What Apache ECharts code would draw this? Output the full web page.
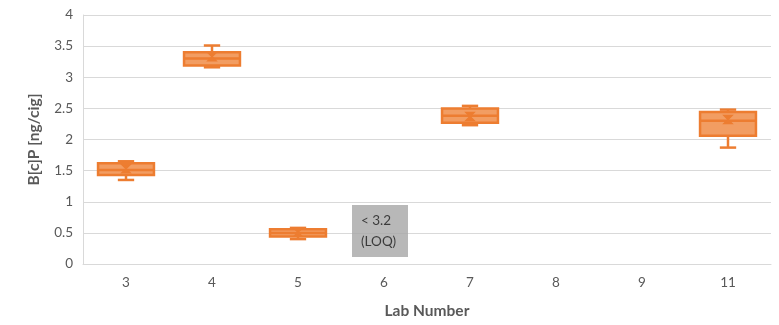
<!DOCTYPE html>
<html>
<head>
<meta charset="utf-8">
<script src="https://cdn.jsdelivr.net/npm/echarts@6/dist/echarts.min.js"></script>
<style>
html,body{margin:0;padding:0;background:#fff;}
#chart{width:779px;height:325px;}
</style>
</head>
<body>
<div id="chart"></div>
<script>
const labs = ['3','4','5','6','7','8','9','11'];
const minVals    = [1.35, 3.16, 0.40, null, 2.23, null, null, 1.87];
const q1Vals     = [1.43, 3.19, 0.44, null, 2.27, null, null, 2.06];
const medianVals = [1.51, 3.30, 0.50, null, 2.38, null, null, 2.30];
const q3Vals     = [1.62, 3.40, 0.56, null, 2.50, null, null, 2.44];
const maxVals    = [1.65, 3.51, 0.58, null, 2.54, null, null, 2.48];
const meanVals   = [1.53, 3.33, 0.51, null, 2.37, null, null, 2.32];
const yTicks = [0, 0.5, 1, 1.5, 2, 2.5, 3, 3.5, 4];
const loqLab = '6';
const loqValue = 0.53;
const loqText = '< 3.2\n(LOQ)';

const boxData = [];
labs.forEach((lab, i) => {
  if (minVals[i] !== null) {
    boxData.push([i, minVals[i], q1Vals[i], medianVals[i], q3Vals[i], maxVals[i], meanVals[i]]);
  }
});

const DARK = '#ED7D31';
const LIGHT = '#F29D62';

function renderBox(params, api) {
  const idx = api.value(0);
  const pMin = api.coord([idx, api.value(1)]);
  const pQ1 = api.coord([idx, api.value(2)]);
  const pMed = api.coord([idx, api.value(3)]);
  const pQ3 = api.coord([idx, api.value(4)]);
  const pMax = api.coord([idx, api.value(5)]);
  const pMean = api.coord([idx, api.value(6)]);
  const band = api.size([1, 0])[0];
  const w = band * 0.65;
  const cap = band * 0.19;
  const cx = pMed[0];
  const lineStyle = {stroke: DARK, lineWidth: 2.5};
  const m = 4;
  return {
    type: 'group',
    children: [
      {type: 'line', shape: {x1: cx, y1: pMin[1], x2: cx, y2: pQ1[1]}, style: lineStyle},
      {type: 'line', shape: {x1: cx, y1: pQ3[1], x2: cx, y2: pMax[1]}, style: lineStyle},
      {type: 'line', shape: {x1: cx - cap/2, y1: pMin[1], x2: cx + cap/2, y2: pMin[1]}, style: lineStyle},
      {type: 'line', shape: {x1: cx - cap/2, y1: pMax[1], x2: cx + cap/2, y2: pMax[1]}, style: lineStyle},
      {type: 'rect', shape: {x: cx - w/2, y: pQ3[1], width: w, height: pQ1[1] - pQ3[1]},
        style: {fill: LIGHT, stroke: DARK, lineWidth: 2.5}},
      {type: 'line', shape: {x1: cx - w/2, y1: pMed[1], x2: cx + w/2, y2: pMed[1]}, style: lineStyle},
      {type: 'polygon', shape: {points: [
        [cx - m, pMean[1] - m], [cx + m, pMean[1] - m], [cx, pMean[1]],
        [cx + m, pMean[1] + m], [cx - m, pMean[1] + m], [cx, pMean[1]]
      ]}, style: {fill: DARK, stroke: DARK, lineWidth: 1.5}}
    ]
  };
}

const chart = echarts.init(document.getElementById('chart'));
chart.setOption({
  animation: false,
  backgroundColor: '#fff',
  textStyle: {fontFamily: 'Lato'},
  grid: {left: 83, right: 8, top: 15, bottom: 61, containLabel: false},
  xAxis: {
    type: 'category',
    data: labs,
    name: 'Lab Number',
    nameLocation: 'middle',
    nameGap: 39,
    nameTextStyle: {fontFamily: 'Lato', fontWeight: 'bold', fontSize: 15.5, color: '#595959'},
    axisLine: {show: true, lineStyle: {color: '#d9d9d9', width: 1}},
    axisTick: {show: false},
    axisLabel: {fontFamily: 'Lato', fontSize: 13.5, color: '#595959', margin: 12},
    splitLine: {show: false}
  },
  yAxis: {
    type: 'value',
    min: yTicks[0],
    max: yTicks[yTicks.length - 1],
    interval: 0.5,
    name: 'B[c]P [ng/cig]',
    nameLocation: 'middle',
    nameGap: 41,
    nameTextStyle: {fontFamily: 'Lato', fontWeight: 'bold', fontSize: 15.5, color: '#595959'},
    axisLine: {show: true, lineStyle: {color: '#d9d9d9', width: 1}},
    axisTick: {show: false},
    axisLabel: {fontFamily: 'Lato', fontSize: 13.5, color: '#595959', margin: 10},
    splitLine: {show: true, lineStyle: {color: '#d9d9d9', width: 1}}
  },
  series: [
    {
      type: 'custom',
      renderItem: renderBox,
      data: boxData,
      encode: {x: 0, y: [1, 2, 3, 4, 5]},
      z: 3
    },
    {
      type: 'scatter',
      data: [[loqLab, loqValue]],
      symbol: 'rect',
      symbolSize: [56, 52],
      symbolOffset: [-4, 0],
      itemStyle: {color: '#a6a6a6'},
      label: {
        show: true,
        position: 'inside',
        formatter: loqText,
        align: 'left',
        offset: [-19, 0],
        fontFamily: 'Lato',
        fontSize: 13.5,
        lineHeight: 21,
        color: '#1a1a1a'
      },
      silent: true,
      z: 4
    }
  ]
});
</script>
</body>
</html>
